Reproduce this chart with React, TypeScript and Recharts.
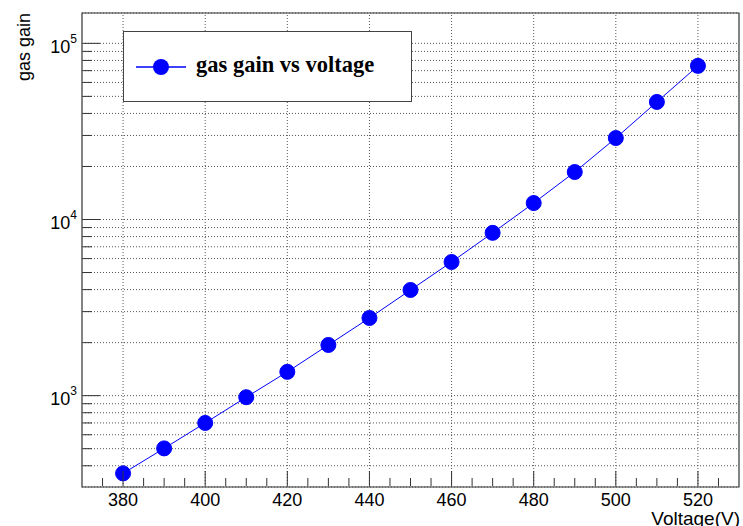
import { LineChart, Line, XAxis, YAxis, CartesianGrid, ReferenceLine, ReferenceArea, Legend } from "recharts";

// measured gas gain for each HV setting
const voltages = [380, 390, 400, 410, 420, 430, 440, 450, 460, 470, 480, 490, 500, 510, 520];
const gains = [362, 502, 700, 980, 1365, 1940, 2760, 3980, 5740, 8400, 12400, 18600, 29000, 46500, 74500];

// axis ticks: minor every 5 V, labelled every 20 V
const xTicks = [375, 380, 385, 390, 395, 400, 405, 410, 415, 420, 425, 430, 435, 440, 445, 450, 455, 460, 465, 470, 475, 480, 485, 490, 495, 500, 505, 510, 515, 520, 525];
const xLabelTicks = [380, 400, 420, 440, 460, 480, 500, 520];
const yTicks = [
  400, 500, 600, 700, 800, 900,
  1000, 2000, 3000, 4000, 5000, 6000, 7000, 8000, 9000,
  10000, 20000, 30000, 40000, 50000, 60000, 70000, 80000, 90000,
  100000,
];
const yDecades = [1000, 10000, 100000];

const data = voltages.map((v, i) => ({ voltage: v, gain: gains[i] }));

const AXIS = "#333";
const FONT = "'Liberation Sans', Arial, Helvetica, sans-serif";

// ticks point into the frame, ROOT style
const XTick = ({ x, y, payload }: any) => {
  const major = xLabelTicks.includes(payload.value);
  const y0 = y - 1;
  return (
    <g>
      <line x1={x} x2={x} y1={y0} y2={y0 - (major ? 15 : 8)} stroke={AXIS} />
      {major && (
        <text x={x} y={y0 + 20} textAnchor="middle" fontSize={18} fontFamily={FONT} fill="#000">
          {payload.value}
        </text>
      )}
    </g>
  );
};

const YTick = ({ x, y, payload }: any) => {
  const major = yDecades.includes(payload.value);
  const x0 = x + 1;
  return (
    <g>
      <line x1={x0} x2={x0 + (major ? 17 : 9)} y1={y} y2={y} stroke={AXIS} />
      {major && (
        <text x={x0 - 6} y={y + 9.5} textAnchor="end" fontSize={18} fontFamily={FONT} fill="#000">
          10
          <tspan dy={-10} fontSize={12}>
            {Math.round(Math.log10(payload.value))}
          </tspan>
        </text>
      )}
    </g>
  );
};

const LegendBox = () => (
  <div
    style={{
      position: "relative",
      width: 289,
      height: 71,
      boxSizing: "border-box",
      border: "1px solid #444",
      background: "#fff",
    }}
  >
    <svg width={70} height={69} style={{ position: "absolute", left: 0, top: 0 }}>
      <line x1={12} x2={62} y1={35} y2={35} stroke="#0000ff" strokeWidth={1.5} />
      <circle cx={37} cy={35} r={8} fill="#0000ff" />
    </svg>
    <span
      style={{
        position: "absolute",
        left: 72,
        top: 19,
        fontFamily: "'Liberation Serif', 'Times New Roman', serif",
        fontWeight: "bold",
        fontSize: 22.5,
        lineHeight: "28px",
        whiteSpace: "nowrap",
        color: "#000",
      }}
    >
      gas gain vs voltage
    </span>
  </div>
);

export default function App() {
  return (
    <div style={{ position: "absolute", left: 0, top: 0, width: 743, height: 526, background: "#fff" }}>
      <LineChart width={743} height={526} data={data} margin={{ top: 13, right: 4, bottom: 38, left: 81 }}>
        <CartesianGrid vertical={false} stroke="#555" strokeDasharray="1 2" />
        {xLabelTicks.map((v) => (
          <ReferenceLine key={v} x={v} stroke="#555" strokeDasharray="1 2" />
        ))}
        <XAxis
          dataKey="voltage"
          type="number"
          domain={[370, 530]}
          ticks={xTicks}
          interval={0}
          height={1}
          tickSize={0}
          tickMargin={0}
          axisLine={false}
          tickLine={false}
          tick={XTick}
          label={{
            content: ({ viewBox }: any) => (
              <text
                x={viewBox.x + viewBox.width + 1}
                y={viewBox.y + 38}
                textAnchor="end"
                fontSize={19}
                fontFamily={FONT}
                fill="#000"
              >
                Voltage(V)
              </text>
            ),
          }}
        />
        <YAxis
          dataKey="gain"
          type="number"
          scale="log"
          domain={[303, 148700]}
          allowDataOverflow
          ticks={yTicks}
          interval={0}
          width={1}
          tickSize={0}
          tickMargin={0}
          axisLine={false}
          tickLine={false}
          tick={YTick}
          label={{
            content: ({ viewBox }: any) => (
              <text
                transform={`translate(${viewBox.x - 51}, ${viewBox.y}) rotate(-90)`}
                textAnchor="end"
                fontSize={18}
                fontFamily={FONT}
                fill="#000"
              >
                gas gain
              </text>
            ),
          }}
        />
        <ReferenceArea x1={370} x2={530} y1={303} y2={148700} stroke={AXIS} strokeWidth={1.2} fill="none" fillOpacity={0} />
        <Line
          dataKey="gain"
          stroke="#0000ff"
          strokeWidth={1}
          dot={{ r: 7.5, fill: "#0000ff", stroke: "#0000ff", strokeWidth: 1 }}
          activeDot={false}
          isAnimationActive={false}
        />
        <Legend
          layout="vertical"
          align="center"
          verticalAlign="middle"
          content={() => <LegendBox />}
          wrapperStyle={{ position: "absolute", left: 123, top: 31, width: 289, height: 71 }}
        />
      </LineChart>
    </div>
  );
}
